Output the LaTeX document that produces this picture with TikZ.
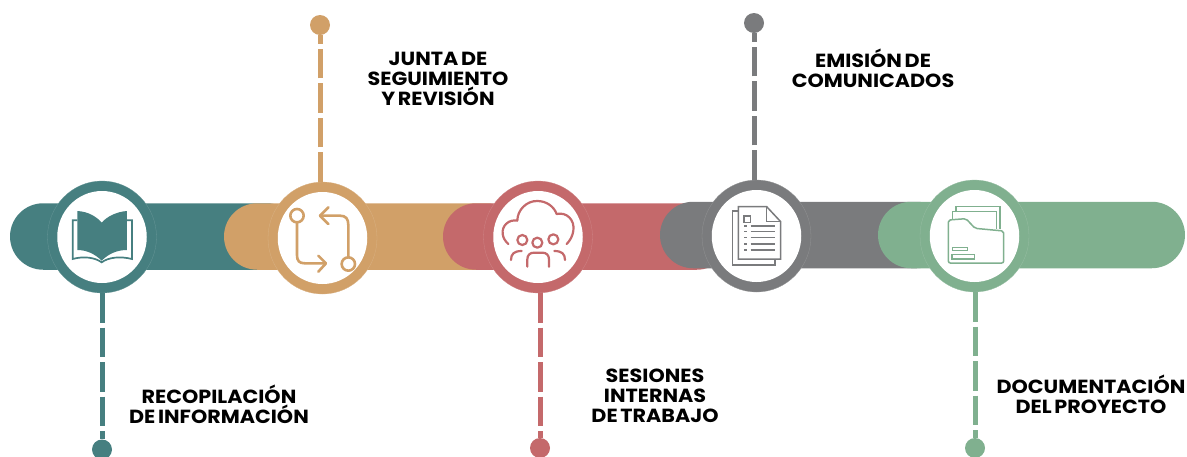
\documentclass[tikz,border=0pt]{standalone}
\usepackage{fontspec}
\setmainfont{Poppins}[WordSpace=0.6,FakeStretch=1.09]
\usetikzlibrary{shapes.geometric,shapes.misc}
\definecolor{cteal}{HTML}{467F80}
\definecolor{ctan}{HTML}{D1A068}
\definecolor{cred}{HTML}{C4696B}
\definecolor{cgray}{HTML}{7A7B7D}
\definecolor{cgreen}{HTML}{80B08F}
\tikzset{
  barshape/.style={rounded rectangle,fill=#1,draw=none,minimum height=66.5pt,inner sep=0pt},
  ringshape/.style={ellipse,fill=#1,draw=#1!82!white,line width=.3pt,minimum width=109pt,minimum height=112pt,inner sep=0pt},
  discshape/.style={ellipse,fill=white,draw=none,minimum width=89.5pt,minimum height=92pt,inner sep=0pt},
  dotshape/.style={circle,fill=#1,draw=none,minimum size=20pt,inner sep=0pt},
  stem/.style={draw=#1,line width=5pt,dash pattern=on 29.5pt off 5pt},
  label/.style={font=\fontsize{19}{20}\selectfont\bfseries,align=center,text=black,inner sep=0pt},
  icon/.style={draw=#1,line width=2.2pt,line cap=round,line join=round,fill=none},
  thinicon/.style={draw=#1,line width=1.5pt,line cap=butt,line join=miter,fill=none},
  zoomed/.style={shift={(#1,170)},x=0.33333pt,y=-0.33333pt}
}
\begin{document}
\begin{tikzpicture}[x=1pt,y=-1pt]
\useasboundingbox (0,0) rectangle (1187,456);
\clip (0,0) rectangle (1187,456);
% bars
\node[barshape=cteal,minimum width=290pt] (barA) at (155,236.5) {};
\node[barshape=ctan,minimum width=296pt] (barB) at (372,236.5) {};
\node[barshape=cred,minimum width=287pt] (barC) at (586.5,236.5) {};
\node[barshape=cgray,minimum width=290pt] (barD) at (805,235) {};
\node[barshape=cgreen,minimum width=307pt] (barE) at (1031.5,235) {};
% rings
\node[ringshape=cteal] (ringA) at (102,237) {};
\node[ringshape=ctan] (ringB) at (322.5,238) {};
\node[ringshape=cred] (ringC) at (538,237) {};
\node[ringshape=cgray] (ringD) at (756.5,236) {};
\node[ringshape=cgreen] (ringE) at (974.5,236) {};
\node[discshape] (discA) at (ringA) {};
\node[discshape] (discB) at (ringB) {};
\node[discshape] (discC) at (ringC) {};
\node[discshape] (discD) at (ringD) {};
\node[discshape] (discE) at (ringE) {};
% end dots
\node[dotshape=cteal] (dotA) at (102,449.5) {};
\node[dotshape=ctan] (dotB) at (320,25) {};
\node[dotshape=cred] (dotC) at (540,448) {};
\node[dotshape=cgray] (dotD) at (754,23) {};
\node[dotshape=cgreen] (dotE) at (975,448) {};
% stems
\draw[stem=cteal] (dotA |- ringA.south) -- (dotA);
\draw[stem=ctan] (dotB |- ringB.north) -- (dotB);
\draw[stem=cred] (dotC |- ringC.south) -- (dotC);
\draw[stem=cgray] (dotD |- ringD.north) -- (dotD);
\draw[stem=cgreen] (dotE |- ringE.south) -- (dotE);
% labels
\node[label] (txtA) at (219,404) {RECOPILACIÓN\\DE INFORMACIÓN};
\node[label] (txtB) at (438,79) {JUNTA DE\\SEGUIMIENTO\\Y REVISIÓN};
\node[label] (txtC) at (655,395.5) {SESIONES\\INTERNAS\\DE TRABAJO};
\node[label] (txtD) at (873,68) {EMISIÓN DE\\COMUNICADOS};
\node[label] (txtE) at (1091,394) {DOCUMENTACIÓN\\DEL PROYECTO};
% book icon
\begin{scope}[zoomed=0]
\fill[cteal] (232,123) .. controls (265,125) and (290,140) .. (305,158) .. controls (320,140) and (350,125) .. (381,123) -- (381,240) .. controls (350,240) and (325,252) .. (305,272) .. controls (285,252) and (260,240) .. (232,240) -- cycle;
\draw[cteal,line width=1.7pt] (232,151) -- (218,151) -- (218,267) .. controls (250,258) and (285,262) .. (305,277) .. controls (325,262) and (360,258) .. (396,267) -- (396,151) -- (381,151);
\end{scope}
% arrows icon
\begin{scope}[zoomed=0]
\draw[icon=ctan,line width=2.6pt] (891,137) circle (20);
\draw[icon=ctan,line width=2.6pt] (1045,282) circle (20);
\draw[icon=ctan,line width=2.6pt] (891,157) -- (891,255) .. controls (891,272) and (897,280) .. (915,280) -- (977,280);
\draw[icon=ctan,line width=2.6pt] (955,257) -- (978,280) -- (955,305);
\draw[icon=ctan,line width=2.6pt] (1045,262) -- (1045,165) .. controls (1045,147) and (1038,137) .. (1020,137) -- (960,137);
\draw[icon=ctan,line width=2.6pt] (985,112) -- (960,137) -- (985,162);
\end{scope}
% cloud and people icon
\begin{scope}[zoomed=430]
\draw[icon=cred] (235,222) .. controls (215,205) and (212,178) .. (228,162) .. controls (238,152) and (250,150) .. (262,152) .. controls (262,120) and (290,92) .. (322,93) .. controls (350,93) and (372,110) .. (380,132) .. controls (410,125) and (435,150) .. (430,182) .. controls (428,198) and (420,212) .. (410,222);
\draw[icon=cred] (277,210) circle (15);
\draw[icon=cred] (322,218) circle (15);
\draw[icon=cred] (370,208) circle (15);
\draw[icon=cred] (292,290) -- (292,268) .. controls (292,255) and (300,248) .. (312,248) -- (337,248) .. controls (349,248) and (357,255) .. (357,268) -- (357,290);
\draw[icon=cred] (243,270) .. controls (243,252) and (252,243) .. (275,243);
\draw[icon=cred] (405,270) .. controls (405,252) and (396,243) .. (373,243);
\end{scope}
% document icon
\begin{scope}[zoomed=430]
\draw[thinicon=cgray] (925,123) -- (907,123) -- (907,285) -- (1035,285) -- (1035,267);
\draw[thinicon=cgray] (925,110) -- (1010,110) -- (1052,155) -- (1052,267) -- (925,267) -- cycle;
\draw[thinicon=cgray] (1010,110) -- (1010,155) -- (1052,155);
\draw[thinicon=cgray] (942,138) rectangle (962,157);
\foreach \yy in {168,185,203,222,240} {
  \draw[thinicon=cgray] (942,\yy) -- (951,\yy);
  \draw[thinicon=cgray] (962,\yy) -- (1035,\yy);
}
\end{scope}
% folder icon
\begin{scope}[zoomed=860]
\draw[thinicon=cgreen] (288,125) -- (288,110) -- (420,110) -- (420,178);
\draw[thinicon=cgreen] (277,146) -- (277,125) -- (410,125) -- (410,176);
\draw[thinicon=cgreen,rounded corners=2pt] (265,150) -- (318,146) -- (345,175) -- (431,183) -- (431,279) -- (265,279) -- cycle;
\draw[thinicon=cgreen] (278,232) rectangle (322,242);
\draw[thinicon=cgreen] (276,254) rectangle (343,267);
\end{scope}
\end{tikzpicture}
\end{document}
